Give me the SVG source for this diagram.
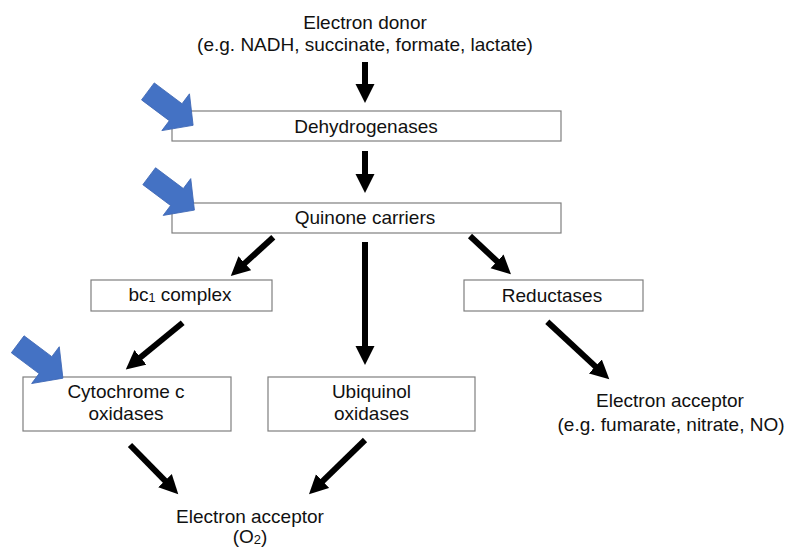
<svg xmlns="http://www.w3.org/2000/svg" width="786" height="548" viewBox="0 0 786 548">
<defs>
<style>
text{font-family:"Liberation Sans",Arial,sans-serif;font-size:19px;fill:#111;text-anchor:middle}
.box{fill:#fff;stroke:#7f7f7f;stroke-width:1.2}
.conn{stroke:#000;stroke-width:6;fill:none;marker-end:url(#ah)}
.blue{fill:#4472C4;stroke:#3f68b5;stroke-width:0.8}
</style>
<marker id="ah" markerUnits="userSpaceOnUse" markerWidth="20" markerHeight="20" viewBox="0 -10 20 20" refX="1" refY="0" orient="auto">
<path d="M0,-9.5 L19,0 L0,9.5 Z" fill="#000"/>
</marker>
<polygon id="blk" points="0,-10.6 34.7,-10.6 34.7,-23 56.5,0 34.7,23 34.7,10.6 0,10.6"/>
</defs>
<rect width="786" height="548" fill="#fff"/>

<g id="connectors">
<line class="conn" x1="365" y1="62" x2="365" y2="85"/>
<line class="conn" x1="365" y1="151" x2="365" y2="175"/>
<line class="conn" x1="273.3" y1="237.3" x2="244.1" y2="263.9"/>
<line class="conn" x1="365" y1="242" x2="365" y2="347"/>
<line class="conn" x1="470" y1="236" x2="497.8" y2="262"/>
<line class="conn" x1="182.7" y1="322.7" x2="139.7" y2="358"/>
<line class="conn" x1="547.3" y1="321.7" x2="596.1" y2="367.1"/>
<line class="conn" x1="130" y1="445" x2="165.7" y2="481.4"/>
<line class="conn" x1="365" y1="440" x2="321.9" y2="481.8"/>
</g>

<g id="donor">
<text x="365" y="29">Electron donor</text>
<text x="365" y="51">(e.g. NADH, succinate, formate, lactate)</text>
</g>

<g id="dehydrogenases">
<rect class="box" x="172" y="111" width="389" height="30"/>
<text x="366" y="133">Dehydrogenases</text>
</g>

<g id="quinone">
<rect class="box" x="172" y="203" width="389" height="30"/>
<text x="365" y="224">Quinone carriers</text>
</g>

<g id="bc1">
<rect class="box" x="91" y="280" width="181" height="31"/>
<text x="180" y="301">bc<tspan font-size="12.5" dy="1">1</tspan><tspan dy="-1"> complex</tspan></text>
</g>

<g id="reductases">
<rect class="box" x="464" y="280" width="179" height="31"/>
<text x="552" y="302">Reductases</text>
</g>

<g id="cytochrome">
<rect class="box" x="23" y="377" width="208" height="54"/>
<text x="126" y="398">Cytochrome c</text>
<text x="126" y="420">oxidases</text>
</g>

<g id="ubiquinol">
<rect class="box" x="268" y="377" width="207" height="54"/>
<text x="371.5" y="398">Ubiquinol</text>
<text x="371.5" y="420">oxidases</text>
</g>

<g id="acceptor-right">
<text x="670" y="407">Electron acceptor</text>
<text x="671" y="431">(e.g. fumarate, nitrate, NO)</text>
</g>

<g id="acceptor-o2">
<text x="250" y="523">Electron acceptor</text>
<text x="250" y="543">(O<tspan font-size="13" dy="1">2</tspan><tspan dy="-1">)</tspan></text>
</g>

<g id="blue-arrows">
<use href="#blk" class="blue" transform="translate(147.9,91.4) rotate(36.87)"/>
<use href="#blk" class="blue" transform="translate(149.2,176.2) rotate(36.87)"/>
<use href="#blk" class="blue" transform="translate(17.7,344.3) rotate(36.87)"/>
</g>
</svg>
